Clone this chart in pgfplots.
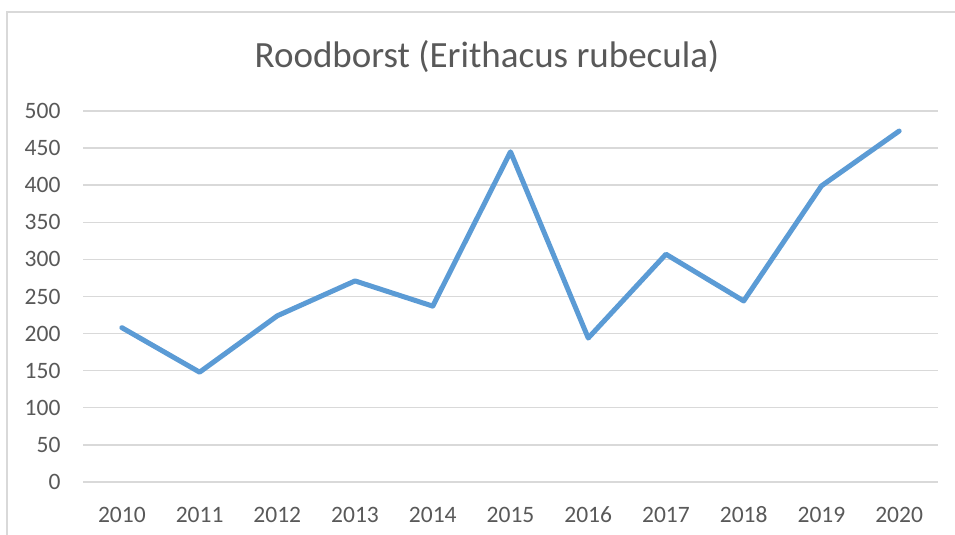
\documentclass[border=0pt]{standalone}
\usepackage{fontspec}
\setmainfont{Carlito}
\usepackage{pgfplots}
\pgfplotsset{compat=1.18}
\definecolor{linec}{HTML}{5B9BD5}
\definecolor{gridc}{HTML}{D9D9D9}
\definecolor{textc}{HTML}{595959}
\begin{document}
\begin{tikzpicture}[x=1pt,y=1pt]
\useasboundingbox (0,0) rectangle (955,535);
\fill[white] (0,0) rectangle (955,535);
\draw[gridc, line width=1.5pt] (7,-10) -- (7,523) -- (970,523);
\node[text=textc, font=\fontsize{37}{44}\selectfont] at (487,478) {Roodborst (Erithacus rubecula)};
\begin{axis}[
  at={(83pt,53pt)}, anchor=south west,
  scale only axis, width=855pt, height=371pt,
  xmin=-0.5, xmax=10.5, ymin=0, ymax=500,
  xtick={0,...,10},
  xticklabels={2010,2011,2012,2013,2014,2015,2016,2017,2018,2019,2020},
  ytick={0,50,...,500},
  ymajorgrids, grid style={gridc, line width=1.4pt},
  axis line style={draw=none},
  major tick length=0pt,
  tick label style={text=textc, font=\fontsize{23.5}{28}\selectfont},
  /pgf/number format/assume math mode=true,
  xticklabel style={anchor=base, yshift=-40pt},
  yticklabel style={xshift=-19pt},
  clip=false,
]
\addplot[linec, line width=5pt, line join=round, line cap=round] coordinates {
(0,208) (1,148) (2,224) (3,271) (4,237) (5,445) (6,194) (7,307) (8,244) (9,399) (10,473)
};
\end{axis}
\end{tikzpicture}
\end{document}
